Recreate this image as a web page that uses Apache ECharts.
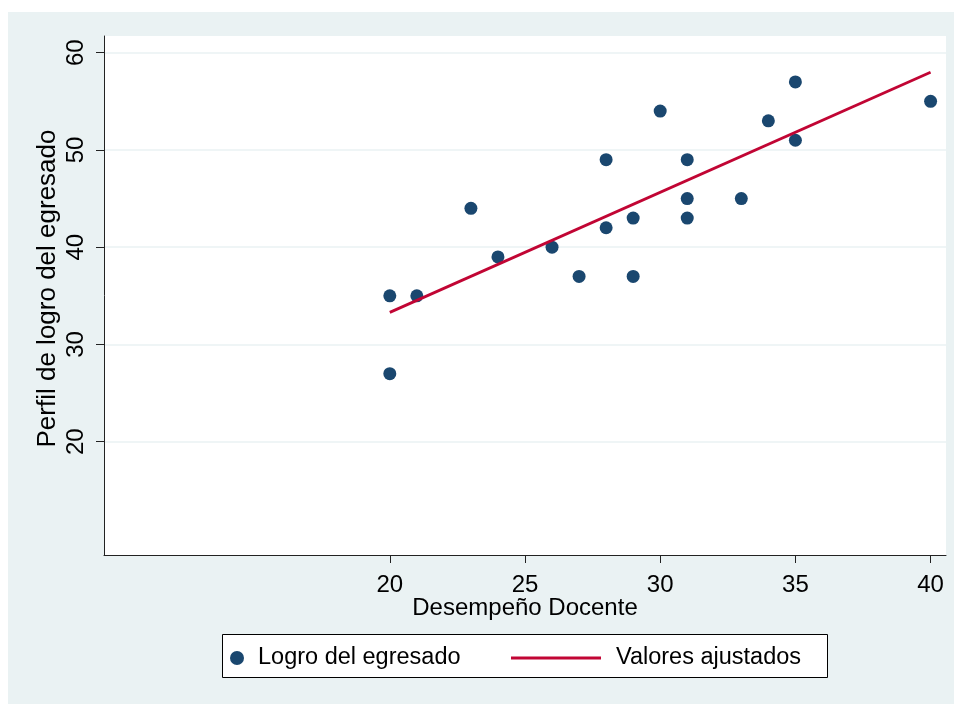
<!DOCTYPE html>
<html>
<head>
<meta charset="utf-8">
<script src="https://cdn.jsdelivr.net/npm/echarts/dist/echarts.min.js"></script>
<style>
  html, body { margin: 0; padding: 0; background: #fff; }
  #chart { width: 954px; height: 704px; }
</style>
</head>
<body>
<div id="chart"></div>
<script>
// Desempeño Docente (x) vs Perfil de logro del egresado (y)
const docente = [20, 20, 21, 23, 24, 26, 27, 28, 28, 29, 29, 30, 31, 31, 31, 33, 34, 35, 35, 40];
const logro = [35, 27, 35, 44, 39, 40, 37, 49, 42, 43, 37, 54, 49, 45, 43, 45, 53, 57, 51, 55];
// fitted line at both ends
const ajusteX = [20, 40];
const ajusteY = [33.3, 58.0];
const xTicks = [20, 25, 30, 35, 40];
const yTicks = [20, 30, 40, 50, 60];

const font = "'Liberation Sans', Arial, sans-serif";
const axisColor = "#222";

let chart = echarts.init(document.getElementById("chart"), null, { renderer: "canvas" });

let option = {
  animation: false,
  backgroundColor: "#EAF2F3",
  textStyle: { fontFamily: font },
  graphic: [
    { type: "rect", shape: { x: 0, y: 0, width: 954, height: 12 }, style: { fill: "#fff" }, silent: true },
    { type: "rect", shape: { x: 0, y: 0, width: 8, height: 704 }, style: { fill: "#fff" }, silent: true },
    {
      type: "rect",
      shape: { x: 222.5, y: 634.5, width: 605, height: 43 },
      style: { fill: "#fff", stroke: "#000", lineWidth: 1 },
      silent: true,
    },
  ],
  grid: {
    show: true,
    backgroundColor: "#fff",
    borderWidth: 0,
    left: 104,
    right: 8,
    top: 36,
    bottom: 149,
  },
  legend: [
    {
      data: [{ name: "Logro del egresado", icon: "circle" }],
      left: 230,
      top: 646,
      padding: 0,
      itemWidth: 14,
      itemHeight: 14,
      textStyle: { fontSize: 23.5, color: "#000", fontFamily: font, padding: [0, 0, 0, 9] },
    },
    {
      data: [{ name: "Valores ajustados", icon: "rect" }],
      left: 511,
      top: 646,
      padding: 0,
      itemWidth: 90,
      itemHeight: 3,
      textStyle: { fontSize: 23.5, color: "#000", fontFamily: font, padding: [0, 0, 0, 10] },
    },
  ],
  xAxis: {
    type: "value",
    min: 9.43,
    max: 40.57,
    name: "Desempeño Docente",
    nameLocation: "middle",
    nameGap: 41,
    nameMoveOverlap: false,
    nameTextStyle: { fontSize: 24, color: "#000", fontFamily: font },
    axisLine: { show: true, onZero: false, lineStyle: { color: axisColor, width: 1 } },
    axisTick: { show: true, length: 8, customValues: xTicks, lineStyle: { color: axisColor } },
    axisLabel: { customValues: xTicks, fontSize: 24, color: "#000", margin: 18, fontFamily: font },
    splitLine: { show: false },
  },
  yAxis: {
    type: "value",
    min: 8.35,
    max: 61.72,
    name: "Perfil de logro del egresado",
    nameLocation: "middle",
    nameGap: 43,
    nameMoveOverlap: false,
    nameTextStyle: { fontSize: 26, color: "#000", fontFamily: font, padding: [0, 0, 0, 14] },
    axisLine: { show: true, onZero: false, lineStyle: { color: axisColor, width: 1 } },
    axisTick: { show: true, length: 8, customValues: yTicks, lineStyle: { color: axisColor } },
    axisLabel: { customValues: yTicks, rotate: 90, fontSize: 24, color: "#000", margin: 16, fontFamily: font },
    splitLine: { show: true, customValues: yTicks, lineStyle: { color: "#EAF2F3", width: 1.5 } },
  },
  series: [
    {
      name: "Logro del egresado",
      type: "scatter",
      symbol: "circle",
      symbolSize: 13,
      itemStyle: { color: "#1A476F", opacity: 1 },
      data: docente.map((x, i) => [x, logro[i]]),
      z: 3,
    },
    {
      name: "Valores ajustados",
      type: "line",
      symbol: "none",
      lineStyle: { color: "#C10534", width: 2.8 },
      itemStyle: { color: "#C10534" },
      data: ajusteX.map((x, i) => [x, ajusteY[i]]),
      z: 4,
    },
  ],
};

chart.setOption(option);
</script>
</body>
</html>
